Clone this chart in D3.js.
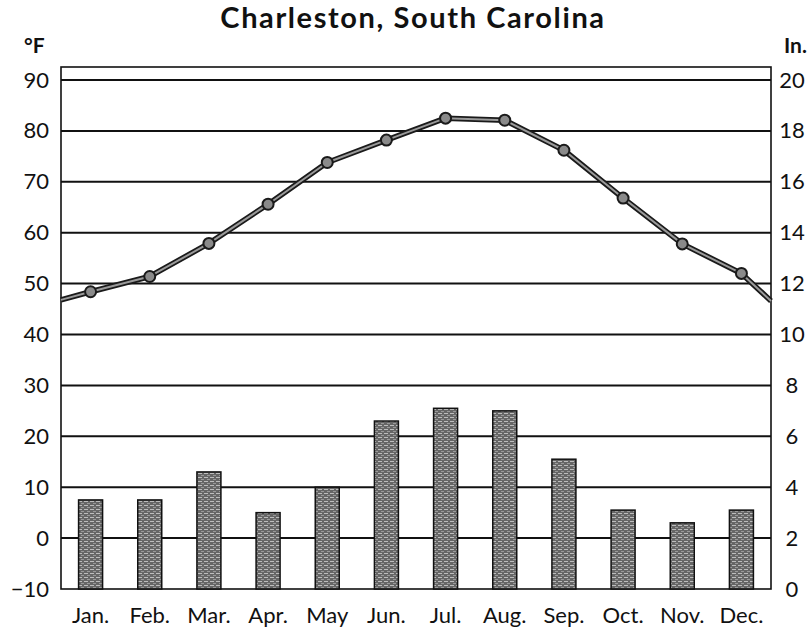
<!DOCTYPE html>
<html>
<head>
<meta charset="utf-8">
<script src="https://cdn.jsdelivr.net/npm/d3@7"></script>
<style>
  html, body { margin: 0; padding: 0; background: #fff; }
  svg { display: block; }
  text { font-family: Lato, "Open Sans", sans-serif; fill: #111; }
</style>
</head>
<body>
<svg id="chart" width="809" height="632"></svg>
<script>
// ---- data ----
const months = ["Jan.", "Feb.", "Mar.", "Apr.", "May", "Jun.", "Jul.", "Aug.", "Sep.", "Oct.", "Nov.", "Dec."];
const tempF = [48.4, 51.4, 57.9, 65.6, 73.8, 78.2, 82.5, 82.1, 76.2, 66.8, 57.8, 52.0];
const tempEdges = [46.8, 46.6]; // where the line meets the left / right frame
const precipIn = [3.5, 3.5, 4.6, 3.0, 4.0, 6.6, 7.1, 7.0, 5.1, 3.1, 2.6, 3.1];
const tempTicks = [-10, 0, 10, 20, 30, 40, 50, 60, 70, 80, 90];
const precipTicks = [0, 2, 4, 6, 8, 10, 12, 14, 16, 18, 20];
const gridTemps = [0, 10, 20, 30, 40, 50, 60, 70, 80, 90];

// ---- layout ----
const left = 61, right = 771, frameTop = 67, bottom = 589, top90 = 80;
const svg = d3.select("#chart");

const x = d3.scaleBand().domain(months).range([left, right]).padding(0);
const yT = d3.scaleLinear().domain([-10, 90]).range([bottom, top90]);
const yP = d3.scaleLinear().domain([0, 20]).range([bottom, top90]);

// texture pattern for bars
const defs = svg.append("defs");
const pat = defs.append("pattern").attr("id", "tex").attr("patternUnits", "userSpaceOnUse")
  .attr("width", 6).attr("height", 4);
pat.append("rect").attr("width", 6).attr("height", 4).attr("fill", "#666");
pat.append("rect").attr("x", 0).attr("y", 1).attr("width", 4).attr("height", 1).attr("fill", "#bdbdbd");
pat.append("rect").attr("x", 3).attr("y", 3).attr("width", 3).attr("height", 1).attr("fill", "#999");

// title
svg.append("text").attr("x", 413).attr("y", 28).attr("text-anchor", "middle")
  .attr("font-size", 29).attr("font-weight", "bold").attr("letter-spacing", 1.6)
  .text("Charleston, South Carolina");
svg.append("text").attr("x", 24).attr("y", 53).attr("font-size", 21).attr("font-weight", "bold").text("°F");
svg.append("text").attr("x", 784).attr("y", 53).attr("font-size", 21).attr("font-weight", "bold").text("In.");

// gridlines
svg.append("g").selectAll("line").data(gridTemps).join("line")
  .attr("x1", left).attr("x2", right)
  .attr("y1", d => yT(d)).attr("y2", d => yT(d))
  .attr("stroke", "#111").attr("stroke-width", 2);

// frame
svg.append("rect").attr("x", left).attr("y", frameTop)
  .attr("width", right - left).attr("height", bottom - frameTop)
  .attr("fill", "none").attr("stroke", "#111").attr("stroke-width", 1.6);

// bars
const bw = 24;
svg.append("g").selectAll("rect").data(precipIn).join("rect")
  .attr("x", (d, i) => x(months[i]) + x.bandwidth() / 2 - bw / 2)
  .attr("y", d => yP(d))
  .attr("width", bw)
  .attr("height", d => bottom - yP(d))
  .attr("fill", "url(#tex)")
  .attr("stroke", "#111").attr("stroke-width", 1.5);

// temperature line
const pts = [[left, tempEdges[0]]]
  .concat(tempF.map((t, i) => [x(months[i]) + x.bandwidth() / 2, t]))
  .concat([[right, tempEdges[1]]]);
const line = d3.line().x(d => d[0]).y(d => yT(d[1]));
svg.append("path").attr("d", line(pts)).attr("fill", "none")
  .attr("stroke", "#1a1a1a").attr("stroke-width", 5.5).attr("stroke-linejoin", "round");
svg.append("path").attr("d", line(pts)).attr("fill", "none")
  .attr("stroke", "#9a9a9a").attr("stroke-width", 2).attr("stroke-linejoin", "round");
svg.append("g").selectAll("circle").data(tempF).join("circle")
  .attr("cx", (d, i) => x(months[i]) + x.bandwidth() / 2)
  .attr("cy", d => yT(d))
  .attr("r", 5.5)
  .attr("fill", "#8a8a8a").attr("stroke", "#1a1a1a").attr("stroke-width", 2);

// left axis
const axL = svg.append("g").attr("transform", `translate(${left},0)`)
  .call(d3.axisLeft(yT).tickValues(tempTicks).tickSize(0).tickPadding(12));
axL.select(".domain").remove();
axL.selectAll("text").attr("font-size", 22).attr("font-family", "Lato, sans-serif").attr("fill", "#111");

// right axis
const axR = svg.append("g").attr("transform", `translate(${right},0)`)
  .call(d3.axisRight(yP).tickValues(precipTicks).tickSize(0));
axR.select(".domain").remove();
axR.selectAll("text").attr("x", 21).attr("text-anchor", "middle")
  .attr("font-size", 22).attr("font-family", "Lato, sans-serif").attr("fill", "#111");

// bottom axis (month labels)
const axB = svg.append("g").attr("transform", `translate(0,${bottom})`)
  .call(d3.axisBottom(x).tickSize(0).tickPadding(18));
axB.select(".domain").remove();
axB.selectAll("text").attr("font-size", 22).attr("font-family", "Lato, sans-serif").attr("fill", "#111");
</script>
</body>
</html>
